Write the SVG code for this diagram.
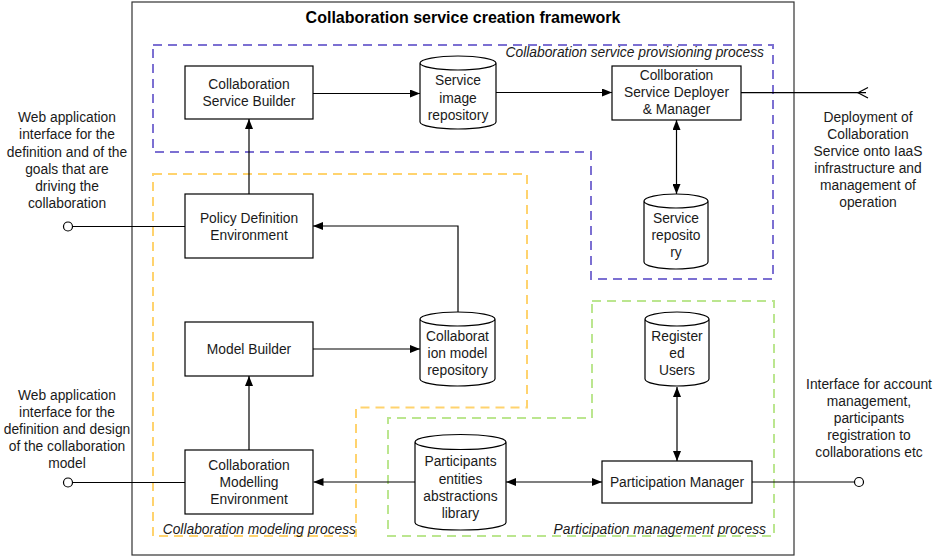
<svg xmlns="http://www.w3.org/2000/svg" width="938" height="557" viewBox="0 0 938 557">
<defs>
<marker id="ah" viewBox="0 0 10 8" refX="10" refY="4" markerWidth="10" markerHeight="8" markerUnits="userSpaceOnUse" orient="auto-start-reverse">
<path d="M0,0 L10,4 L0,8 z" fill="#000"/>
</marker>
<style>
text{font-family:"Liberation Sans",Arial,Helvetica,sans-serif;font-size:13.8px;fill:#1a1a1a;text-anchor:middle;dominant-baseline:central}
.title{font-weight:bold;font-size:16px;fill:#000}
.it{font-style:italic;text-anchor:end}
.box{fill:#fff;stroke:#000;stroke-width:1.2}
.cyl{fill:#fff;stroke:#000;stroke-width:1.2}
.conn line,.conn polyline,.conn path{fill:none;stroke:#000;stroke-width:1.2}
.port{fill:#fff;stroke:#000;stroke-width:1.2}
.reg{fill:none;stroke-width:2;stroke-dasharray:9,6}
</style>
</defs>
<rect width="938" height="557" fill="#fff"/>
<g id="frame">
<rect x="132" y="2" width="662" height="553" fill="none" stroke="#333" stroke-width="1.2"/>
<text class="title" x="463" y="17">Collaboration service creation framework</text>
</g>
<g id="region-provisioning">
<path class="reg" stroke="#7C70D2" d="M153,45 L773,45 L773,279 L591,279 L591,152 L153,152 Z"/>
<text class="it" x="764" y="52">Collaboration service provisioning process</text>
</g>
<g id="region-modeling">
<path class="reg" stroke="#FFD36E" d="M153,174 L527,174 L527,407.5 L356,407.5 L356,536 L153,536 Z"/>
<text class="it" x="356" y="529">Collaboration modeling process</text>
</g>
<g id="region-participation">
<path class="reg" stroke="#BBE68F" d="M592,301 L774,301 L774,536 L388,536 L388,418 L592,418 Z"/>
<text class="it" x="766" y="529">Participation management process</text>
</g>
<g class="conn" id="connectors">
<line x1="313" y1="93.5" x2="420" y2="93.5" marker-end="url(#ah)"/>
<line x1="496" y1="92.5" x2="612" y2="92.5" marker-end="url(#ah)"/>
<line x1="741" y1="92.7" x2="866" y2="92.7"/>
<polyline points="868,87.5 858,92.7 868,98"/>
<line x1="676.5" y1="120" x2="676.5" y2="194" marker-start="url(#ah)" marker-end="url(#ah)"/>
<line x1="249" y1="194" x2="249" y2="119" marker-end="url(#ah)"/>
<line x1="72.5" y1="226.5" x2="185" y2="226.5"/>
<polyline points="458,312 458,226 313,226" marker-end="url(#ah)"/>
<line x1="313" y1="349" x2="420" y2="349" marker-end="url(#ah)"/>
<line x1="249" y1="450" x2="249" y2="376" marker-end="url(#ah)"/>
<line x1="72.5" y1="482.5" x2="185" y2="482.5"/>
<line x1="415" y1="482" x2="313.5" y2="482" marker-end="url(#ah)"/>
<line x1="506" y1="482" x2="602" y2="482" marker-start="url(#ah)" marker-end="url(#ah)"/>
<line x1="677" y1="387" x2="677" y2="461" marker-start="url(#ah)" marker-end="url(#ah)"/>
<line x1="752" y1="482" x2="854.5" y2="482"/>
<circle class="port" cx="68" cy="226.5" r="4.5"/>
<circle class="port" cx="68" cy="482.5" r="4.5"/>
<circle class="port" cx="859" cy="482" r="4.5"/>
</g>
<g id="csb">
<rect class="box" x="185" y="66" width="128" height="53"/>
<text x="249" y="84.5">Collaboration</text>
<text x="249" y="101">Service Builder</text>
</g>
<g id="sir">
<path class="cyl" d="M420,63 A38,7 0 0 1 496,63 L496,122 A38,7 0 0 1 420,122 Z M420,63 A38,7 0 0 0 496,63"/>
<text x="458" y="80">Service</text>
<text x="458" y="98">image</text>
<text x="458" y="115.5">repository</text>
</g>
<g id="deployer">
<rect class="box" x="612" y="66" width="129" height="54"/>
<text x="676.5" y="75.5">Collboration</text>
<text x="676.5" y="92.5">Service Deployer</text>
<text x="676.5" y="109.5">&amp; Manager</text>
</g>
<g id="service-repo">
<path class="cyl" d="M644,201 A32,7 0 0 1 708,201 L708,262 A32,7 0 0 1 644,262 Z M644,201 A32,7 0 0 0 708,201"/>
<text x="676" y="218.5">Service</text>
<text x="676" y="235.5">reposito</text>
<text x="676" y="252.5">ry</text>
</g>
<g id="pde">
<rect class="box" x="185" y="194" width="128" height="64"/>
<text x="249" y="218">Policy Definition</text>
<text x="249" y="235">Environment</text>
</g>
<g id="cmr">
<path class="cyl" d="M420,319 A37.5,7 0 0 1 495,319 L495,379 A37.5,7 0 0 1 420,379 Z M420,319 A37.5,7 0 0 0 495,319"/>
<text x="457.5" y="336.5">Collaborat</text>
<text x="457.5" y="353">ion model</text>
<text x="457.5" y="370">repository</text>
</g>
<g id="mb">
<rect class="box" x="185" y="322" width="128" height="54"/>
<text x="249" y="349">Model Builder</text>
</g>
<g id="cme">
<rect class="box" x="185" y="450" width="128" height="64"/>
<text x="249" y="465.5">Collaboration</text>
<text x="249" y="482.3">Modelling</text>
<text x="249" y="499">Environment</text>
</g>
<g id="peal">
<path class="cyl" d="M415,442 A45.5,7.5 0 0 1 506,442 L506,522.5 A45.5,7.5 0 0 1 415,522.5 Z M415,442 A45.5,7.5 0 0 0 506,442"/>
<text x="460.5" y="461.5">Participants</text>
<text x="460.5" y="479">entities</text>
<text x="460.5" y="496">abstractions</text>
<text x="460.5" y="513">library</text>
</g>
<g id="ru">
<path class="cyl" d="M645,319 A32,7 0 0 1 709,319 L709,379 A32,7 0 0 1 645,379 Z M645,319 A32,7 0 0 0 709,319"/>
<text x="677" y="336">Register</text>
<text x="677" y="353">ed</text>
<text x="677" y="370">Users</text>
</g>
<g id="pm">
<rect class="box" x="602" y="461" width="150" height="42"/>
<text x="677" y="482">Participation Manager</text>
</g>
<g id="ext-left-top">
<text x="67" y="117.5">Web application</text>
<text x="67" y="134.5">interface for the</text>
<text x="67" y="152">definition and of the</text>
<text x="67" y="169">goals that are</text>
<text x="67" y="186">driving the</text>
<text x="67" y="203">collaboration</text>
</g>
<g id="ext-left-bottom">
<text x="67" y="395.5">Web application</text>
<text x="67" y="412.5">interface for the</text>
<text x="67" y="429">definition and design</text>
<text x="67" y="446">of the collaboration</text>
<text x="67" y="463">model</text>
</g>
<g id="ext-right-top">
<text x="868" y="117.5">Deployment of</text>
<text x="868" y="134.5">Collaboration</text>
<text x="868" y="151">Service onto IaaS</text>
<text x="868" y="168">infrastructure and</text>
<text x="868" y="185">management of</text>
<text x="868" y="202">operation</text>
</g>
<g id="ext-right-bottom">
<text x="869" y="384.5">Interface for account</text>
<text x="869" y="401">management,</text>
<text x="869" y="418">participants</text>
<text x="869" y="435">registration to</text>
<text x="869" y="452">collaborations etc</text>
</g>
</svg>
